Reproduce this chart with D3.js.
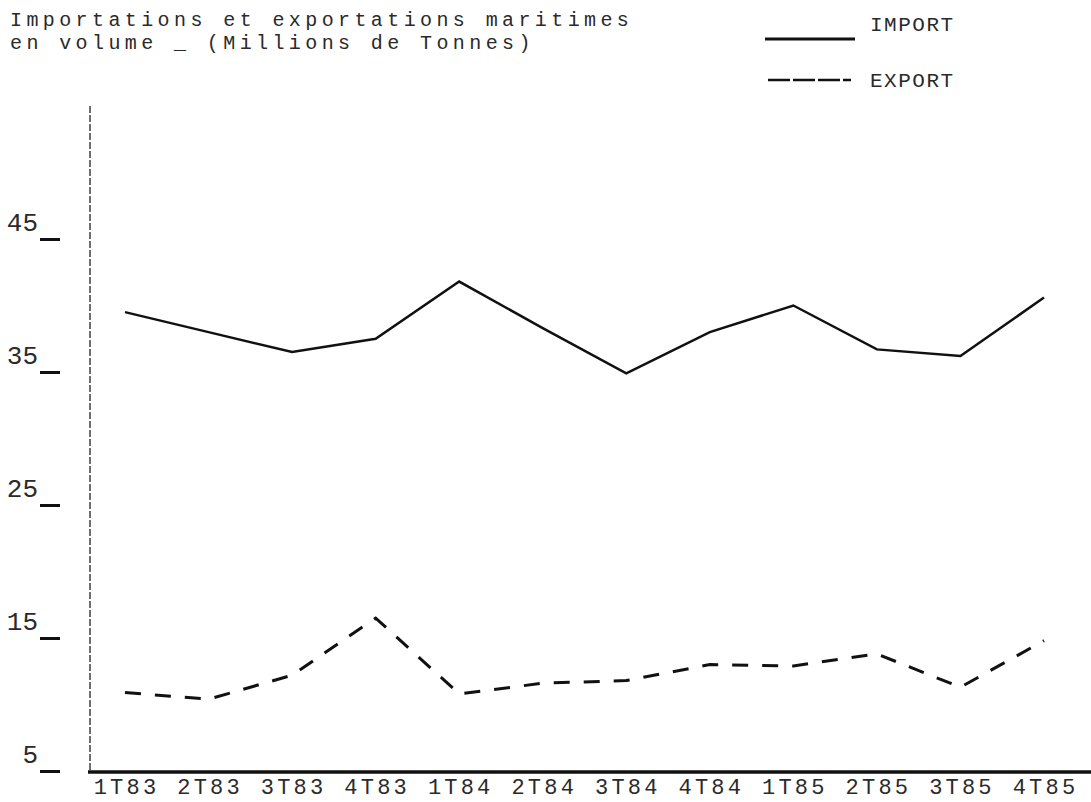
<!DOCTYPE html>
<html>
<head>
<meta charset="utf-8">
<script src="https://cdn.jsdelivr.net/npm/d3@7"></script>
<style>
	body { margin: 0; background: #fff; }
	svg text { font-family: "Liberation Mono", "Courier New", monospace; fill: #2a2a2a; }
</style>
</head>
<body>
<script>
	// DATA (millions de tonnes)
	const quarters = ['1T83', '2T83', '3T83', '4T83', '1T84', '2T84', '3T84', '4T84', '1T85', '2T85', '3T85', '4T85'];
	const imports = [39.5, 38.0, 36.5, 37.5, 41.8, 38.3, 34.9, 38.0, 40.0, 36.7, 36.2, 40.6];
	const exports = [10.9, 10.4, 12.2, 16.5, 10.8, 11.6, 11.8, 13.0, 12.9, 13.8, 11.3, 14.8];
	const yTicks = [5, 15, 25, 35, 45];
	const titleLines = ['Importations et exportations maritimes', 'en volume _ (Millions de Tonnes)'];
	const seriesNames = ['IMPORT', 'EXPORT'];

	// CONFIGURATION
	const width = 1091;
	const height = 802;
	const fontSize = 22;
	const spacing = 3.2;

	const svg = d3.select('body')
		.append('svg')
		.attr('width', width)
		.attr('height', height);

	// SCALES
	const xScale = d3.scalePoint()
		.domain(quarters)
		.range([125, 1044]);

	const yScale = d3.scaleLinear()
		.domain([5, 55])
		.range([771, 106]);

	// TITLE
	svg.selectAll('.title')
		.data(titleLines)
		.enter()
		.append('text')
		.attr('class', 'title')
		.attr('x', 10)
		.attr('y', (d, i) => 26 + i * 23)
		.style('font-size', (fontSize - 2) + 'px')
		.style('letter-spacing', (spacing + 1.2) + 'px')
		.text(d => d);

	// LEGEND
	const legend = svg.append('g');
	legend.append('line')
		.attr('x1', 765).attr('x2', 855)
		.attr('y1', 39).attr('y2', 39)
		.attr('stroke', '#111')
		.attr('stroke-width', 3);
	legend.append('line')
		.attr('x1', 768).attr('x2', 851)
		.attr('y1', 80).attr('y2', 80)
		.attr('stroke', '#111')
		.attr('stroke-width', 2.5)
		.attr('stroke-dasharray', '22,3');
	legend.selectAll('text')
		.data(seriesNames)
		.enter()
		.append('text')
		.attr('x', 870)
		.attr('y', (d, i) => i === 0 ? 31 : 87)
		.style('font-size', (fontSize - 1) + 'px')
		.style('letter-spacing', '1.5px')
		.text(d => d);

	// Y AXIS
	const yAxis = d3.axisLeft(yScale)
		.tickValues(yTicks)
		.tickSize(20)
		.tickPadding(2);
	const yAxisG = svg.append('g')
		.attr('transform', 'translate(60, 0)')
		.call(yAxis);
	yAxisG.select('.domain').remove();
	yAxisG.selectAll('.tick line')
		.attr('stroke', '#111')
		.attr('stroke-width', 3);
	yAxisG.selectAll('.tick text')
		.attr('dy', '-0.32em')
		.style('font-size', (fontSize + 4) + 'px')
		.style('fill', '#2a2a2a');

	// vertical axis line (dotted, scanned look)
	svg.append('line')
		.attr('x1', 90).attr('x2', 90)
		.attr('y1', yScale.range()[1])
		.attr('y2', yScale(5) + 1)
		.attr('stroke', '#333')
		.attr('stroke-width', 1.4)
		.attr('stroke-dasharray', '7,2');

	// X AXIS
	const xAxis = d3.axisBottom(xScale)
		.tickSize(0)
		.tickPadding(6);
	const xAxisG = svg.append('g')
		.attr('transform', `translate(0, ${yScale(5) + 1})`)
		.call(xAxis);
	xAxisG.select('.domain').remove();
	xAxisG.selectAll('.tick text')
		.attr('dx', '1px')
		.style('font-size', fontSize + 'px')
		.style('letter-spacing', spacing + 'px')
		.style('fill', '#2a2a2a');
	svg.append('line')
		.attr('x1', 88).attr('x2', width)
		.attr('y1', yScale(5) + 1).attr('y2', yScale(5) + 1)
		.attr('stroke', '#111')
		.attr('stroke-width', 3.5);

	// LINES
	const line = d3.line()
		.x((d, i) => xScale(quarters[i]))
		.y(d => yScale(d));

	svg.append('path')
		.datum(imports)
		.attr('d', line)
		.attr('fill', 'none')
		.attr('stroke', '#111')
		.attr('stroke-width', 2.5);

	svg.append('path')
		.datum(exports)
		.attr('d', line)
		.attr('fill', 'none')
		.attr('stroke', '#111')
		.attr('stroke-width', 3)
		.attr('stroke-dasharray', '16,14');
</script>
</body>
</html>
